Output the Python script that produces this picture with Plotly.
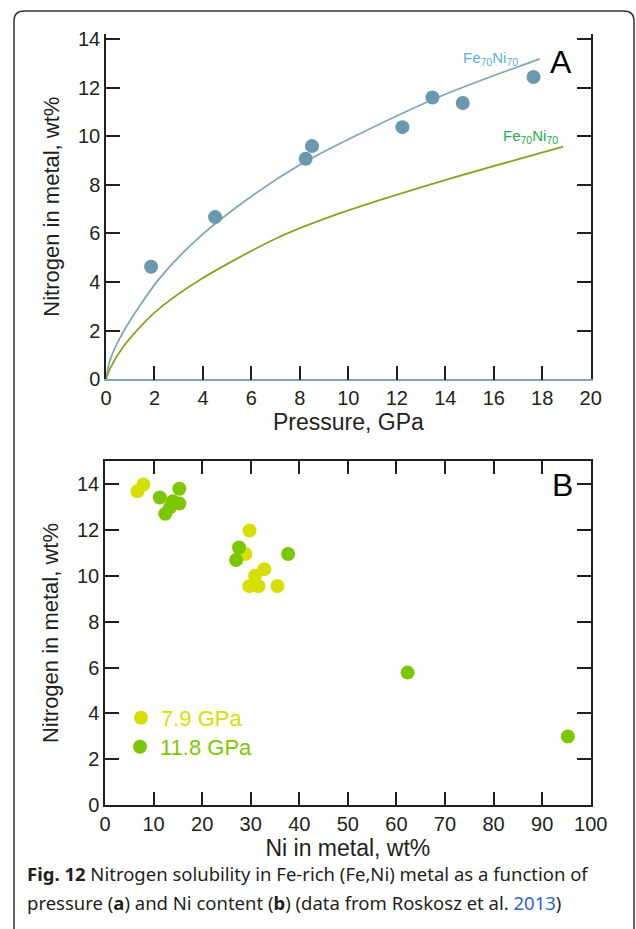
import plotly.graph_objects as go

W, H = 636, 929

# ---- Panel A data ----
pressure_pts = [1.86, 4.50, 8.24, 8.50, 12.23, 13.47, 14.72, 17.64]
nitrogen_pts = [4.63, 6.67, 9.07, 9.59, 10.37, 11.59, 11.36, 12.43]

blue_curve_x = [0, 0.17, 0.72, 2.16, 3.88, 6.08, 8.0, 10.07, 13.78, 17.9]
blue_curve_y = [0, 0.80, 1.96, 4.09, 5.87, 7.58, 8.82, 9.90, 11.63, 13.18]

green_curve_x = [0, 0.17, 0.72, 2.0, 3.88, 7.04, 9.66, 13.78, 18.87]
green_curve_y = [0, 0.45, 1.35, 2.74, 4.09, 5.80, 6.83, 8.13, 9.57]

# ---- Panel B data ----
ni_79 = [6.7, 7.9, 29.75, 28.9, 30.9, 32.8, 29.7, 31.6, 35.5]
n_79 = [13.67, 13.96, 11.96, 10.94, 9.99, 10.28, 9.54, 9.54, 9.55]
ni_118 = [11.3, 15.3, 13.95, 15.3, 13.4, 12.4, 27.6, 27.0, 37.7, 62.3, 95.3]
n_118 = [13.40, 13.78, 13.23, 13.14, 12.97, 12.69, 11.22, 10.68, 10.94, 5.78, 3.0]

xticks_a = list(range(0, 21, 2))
yticks_a = list(range(0, 15, 2))
xticks_b = list(range(0, 101, 10))
yticks_b = list(range(0, 15, 2))

BLUE_PT = "#6a99ad"
BLUE_LN = "#80a7b7"
GREEN_LN = "#8ba224"
YEL = "#d6df00"
GRN = "#7cc800"
INK = "#231f20"
FONT = "Liberation Sans"

fig = go.Figure()
fig.add_trace(go.Scatter(x=blue_curve_x, y=blue_curve_y, mode="lines",
                         line=dict(color=BLUE_LN, width=1.8, shape="spline", smoothing=0.8),
                         xaxis="x", yaxis="y", showlegend=False, hoverinfo="skip"))
fig.add_trace(go.Scatter(x=green_curve_x, y=green_curve_y, mode="lines",
                         line=dict(color=GREEN_LN, width=1.8, shape="spline", smoothing=0.8),
                         xaxis="x", yaxis="y", showlegend=False, hoverinfo="skip"))
fig.add_trace(go.Scatter(x=pressure_pts, y=nitrogen_pts, mode="markers",
                         marker=dict(color=BLUE_PT, size=14),
                         xaxis="x", yaxis="y", showlegend=False))
fig.add_trace(go.Scatter(x=ni_79, y=n_79, mode="markers", name="7.9 GPa",
                         marker=dict(color=YEL, size=14),
                         xaxis="x2", yaxis="y2", legend="legend"))
fig.add_trace(go.Scatter(x=ni_118, y=n_118, mode="markers", name="11.8 GPa",
                         marker=dict(color=GRN, size=14),
                         xaxis="x2", yaxis="y2", legend="legend2"))

def px_x(p):
    return p / W

def px_y(p):
    return 1 - p / H

axcommon = dict(ticks="inside", ticklen=14, tickwidth=1.5, tickcolor=INK,
                showline=True, linecolor=INK, linewidth=1.5, showgrid=False,
                zeroline=False, automargin=False,
                tickfont=dict(family=FONT, size=20, color=INK))

fig.update_layout(
    width=W, height=H,
    margin=dict(l=0, r=0, t=0, b=0),
    paper_bgcolor="white", plot_bgcolor="white",
    font=dict(family=FONT, color=INK),
    xaxis=dict(axcommon, domain=[px_x(106), px_x(590.7)], range=[0, 20], tickvals=xticks_a,
               anchor="y", mirror=False, linecolor=BLUE_LN,
               title=dict(text="Pressure, GPa", font=dict(family=FONT, size=23, color=INK), standoff=6)),
    xaxis3=dict(axcommon, overlaying="x", matches="x", side="top", anchor="y", range=[0, 20],
                tickvals=xticks_a, showticklabels=False),
    yaxis=dict(axcommon, domain=[px_y(379.3), px_y(34)], range=[0, 14.2], tickvals=yticks_a,
               anchor="x", mirror="ticks",
               title=dict(text="Nitrogen in metal, wt%", font=dict(family=FONT, size=22, color=INK), standoff=12)),
    xaxis2=dict(axcommon, domain=[px_x(105), px_x(590.7)], range=[0, 100], tickvals=xticks_b,
                anchor="y2", mirror="ticks",
                title=dict(text="Ni in metal, wt%", font=dict(family=FONT, size=23, color=INK), standoff=6)),
    yaxis2=dict(axcommon, domain=[px_y(805.4), px_y(460.7)], range=[0, 15], tickvals=yticks_b,
                anchor="x2", mirror="ticks",
                title=dict(text="Nitrogen in metal, wt%", font=dict(family=FONT, size=22, color=INK), standoff=12)),
    legend=dict(x=px_x(121), y=px_y(718), xanchor="left", yanchor="middle",
                bgcolor="rgba(0,0,0,0)", font=dict(family=FONT, size=22, color=YEL),
                itemsizing="trace", tracegroupgap=0),
    legend2=dict(x=px_x(120), y=px_y(747), xanchor="left", yanchor="middle",
                 bgcolor="rgba(0,0,0,0)", font=dict(family=FONT, size=22, color=GRN),
                 itemsizing="trace", tracegroupgap=0),
    showlegend=True,
)

r = 10
x0, x1, y0, y1 = 14, 634, 11, 945
path = (f"M {px_x(x0)},{px_y(y1)} L {px_x(x0)},{px_y(y0 + r)} "
        f"Q {px_x(x0)},{px_y(y0)} {px_x(x0 + r)},{px_y(y0)} "
        f"L {px_x(x1 - r)},{px_y(y0)} Q {px_x(x1)},{px_y(y0)} {px_x(x1)},{px_y(y0 + r)} "
        f"L {px_x(x1)},{px_y(y1)}")
fig.add_shape(type="path", path=path, xref="paper", yref="paper",
              line=dict(color="#333333", width=1.5))

annos = [
    dict(x=15.85, y=13.2, xref="x", yref="y", text="Fe<sub>70</sub>Ni<sub>70</sub>",
         font=dict(family=FONT, size=15, color="#5eb0e0"), showarrow=False),
    dict(x=17.5, y=9.97, xref="x", yref="y", text="Fe<sub>70</sub>Ni<sub>70</sub>",
         font=dict(family=FONT, size=15, color="#20b04a"), showarrow=False),
    dict(x=px_x(561), y=px_y(62), xref="paper", yref="paper", text="A",
         xanchor="center", yanchor="middle",
         font=dict(family=FONT, size=32, color="black"), showarrow=False),
    dict(x=px_x(562), y=px_y(485), xref="paper", yref="paper", text="B",
         xanchor="center", yanchor="middle",
         font=dict(family=FONT, size=32, color="black"), showarrow=False),
    dict(x=px_x(25), y=px_y(873), xref="paper", yref="paper", xanchor="left", yanchor="middle",
         text="<b>Fig. 12</b> Nitrogen solubility in Fe-rich (Fe,Ni) metal as a function of",
         font=dict(family="Noto Sans", size=18.5, color=INK), showarrow=False, align="left"),
    dict(x=px_x(25), y=px_y(902), xref="paper", yref="paper", xanchor="left", yanchor="middle",
         text="pressure (<b>a</b>) and Ni content (<b>b</b>) (data from Roskosz et al. "
              "<span style='color:#2f5fd0'>2013</span>)",
         font=dict(family="Noto Sans", size=18.5, color=INK), showarrow=False, align="left"),
]
fig.update_layout(annotations=annos)

fig.write_html("out.html", config={"displayModeBar": False},
               post_script="document.body.style.margin='0';document.body.style.overflow='hidden';")
